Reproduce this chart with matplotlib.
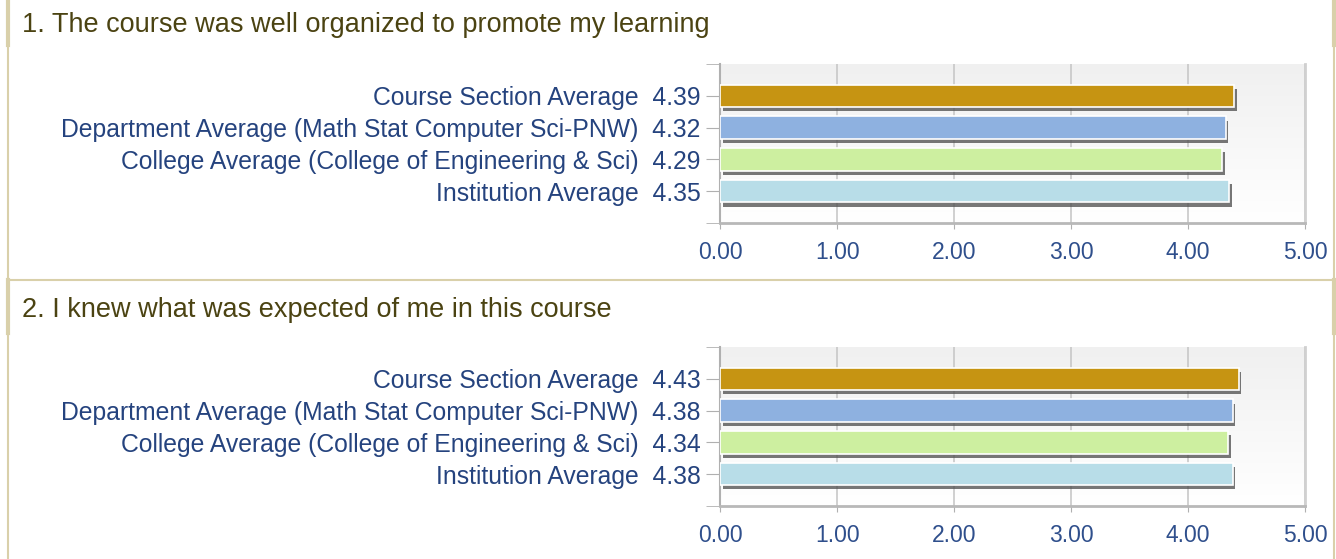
import matplotlib.pyplot as plt
import matplotlib.patheffects as pe
import numpy as np

plt.rcParams['font.family'] = ['Liberation Sans', 'DejaVu Sans']

categories = ['Course Section Average',
              'Department Average (Math Stat Computer Sci-PNW)',
              'College Average (College of Engineering & Sci)',
              'Institution Average']
q1_values = [4.39, 4.32, 4.29, 4.35]
q2_values = [4.43, 4.38, 4.34, 4.38]
titles = ['1. The course was well organized to promote my learning',
          '2. I knew what was expected of me in this course']
xticks = [0, 1, 2, 3, 4, 5]
bar_colors = ['#c69412', '#8eb1e0', '#cdefa0', '#b8dde8']

label_col = '#25437e'
title_col = '#4b4312'
border_col = '#d9d0aa'

fig = plt.figure(figsize=(13.36, 5.59), dpi=100)

grad = np.linspace(0, 1, 100).reshape(-1, 1)
bg_cmap = plt.cm.colors.LinearSegmentedColormap.from_list('bg', ['#ffffff', '#f0f0f0'])

def panel(rect, values):
    ax = fig.add_axes(rect)
    ax.imshow(grad, extent=[0, 1, 0, 1], transform=ax.transAxes, aspect='auto',
              cmap=bg_cmap, zorder=0, origin='lower')
    y = np.arange(len(categories))
    bars = ax.barh(y, values, height=0.7, color=bar_colors, edgecolor='white',
                   linewidth=1.2, zorder=3)
    for b in bars:
        b.set_path_effects([pe.SimplePatchShadow(offset=(2, -3), shadow_rgbFace='#555555', alpha=0.8),
                            pe.Normal()])
    ax.set_xlim(0, 5)
    ax.set_ylim(4, -1)
    ax.set_xticks(xticks)
    ax.set_xticklabels([f'{v:.2f}' for v in xticks], fontsize=16.5, color='#2f4f8c')
    ax.set_yticks(y)
    ax.set_yticklabels([f'{c}  {v:.2f}' for c, v in zip(categories, values)],
                       fontsize=17.8, color=label_col)
    ax.set_yticks([-1, 4], minor=True)
    ax.tick_params(axis='y', which='both', length=10, color='#b0b0b0', pad=4)
    ax.tick_params(axis='x', length=4, color='#b0b0b0', pad=9)
    ax.grid(axis='x', color='#c8c8c8', linewidth=1.2, zorder=1)
    ax.set_axisbelow(True)
    ax.spines['top'].set_visible(False)
    ax.spines['left'].set_color('#b0b0b0')
    ax.spines['bottom'].set_color('#b8b8b8')
    ax.spines['left'].set_linewidth(1.5)
    ax.spines['bottom'].set_linewidth(2)
    ax.spines['right'].set_color('#d0d0d0')
    ax.spines['right'].set_linewidth(2)
    return ax

panel([0.539, 0.601, 0.438, 0.2845], q1_values)
panel([0.539, 0.0948, 0.438, 0.2845], q2_values)

fig.text(0.0165, 0.955, titles[0], fontsize=19.5, color=title_col, va='center')
fig.text(0.0165, 0.446, titles[1], fontsize=19.5, color=title_col, va='center')

# table borders
fig.add_artist(plt.Line2D([0.006, 0.006], [0, 1], color=border_col, lw=1.5))
fig.add_artist(plt.Line2D([0.9985, 0.9985], [0, 1], color=border_col, lw=1.5))
fig.add_artist(plt.Line2D([0.006, 0.006], [0.92, 1], color=border_col, lw=3))
fig.add_artist(plt.Line2D([0.9985, 0.9985], [0.92, 1], color=border_col, lw=3))
fig.add_artist(plt.Line2D([0.006, 0.006], [0.405, 0.5], color=border_col, lw=3))
fig.add_artist(plt.Line2D([0.9985, 0.9985], [0.405, 0.5], color=border_col, lw=3))
fig.add_artist(plt.Line2D([0.006, 0.9985], [0.499, 0.499], color=border_col, lw=1.5))

plt.savefig('out.png', dpi=100)
